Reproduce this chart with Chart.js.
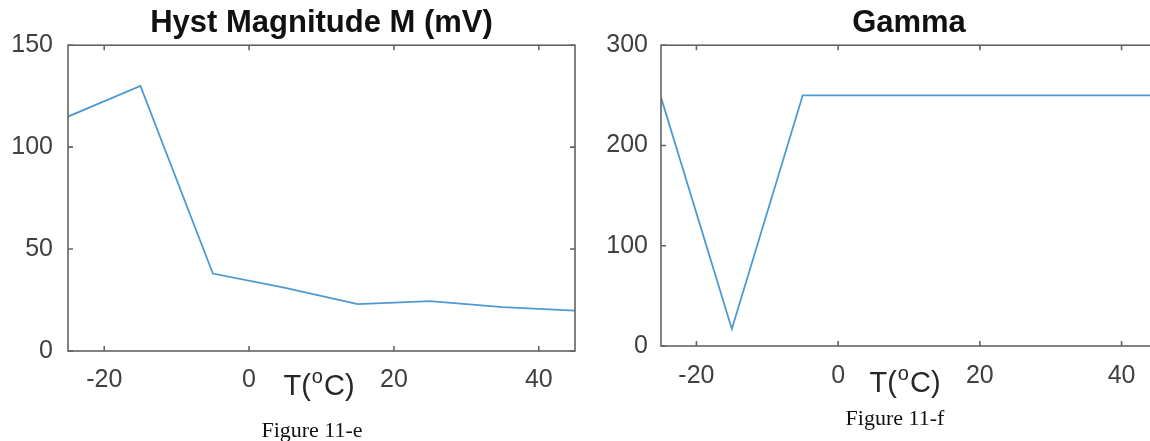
<!DOCTYPE html>
<html>
<head>
<meta charset="utf-8">
<script src="https://cdn.jsdelivr.net/npm/chart.js@4/dist/chart.umd.min.js"></script>
<style>
  html, body { margin: 0; padding: 0; background: #fff; width: 1150px; height: 441px; overflow: hidden; }
  .wrap { position: absolute; top: 0; }
  .xlab { position: absolute; font: 29px "Liberation Sans", Arial, sans-serif; line-height: 29px; color: #262626; transform: translateX(-50%); white-space: nowrap; }
  .xlab sup { font-size: 20px; vertical-align: baseline; position: relative; top: -12px; margin: 0 1px; }
  .cap { position: absolute; font: 22px "Liberation Serif", "Times New Roman", serif; line-height: 22px; color: #111; transform: translateX(-50%); white-space: nowrap; }
</style>
</head>
<body>
<div class="wrap" style="left:0"><canvas id="hystChart" width="580" height="441"></canvas></div>
<div class="wrap" style="left:580px"><canvas id="gammaChart" width="600" height="441"></canvas></div>

<div class="xlab" style="left:319px; top:371px">T(<sup>o</sup>C)</div>
<div class="xlab" style="left:905px; top:368px">T(<sup>o</sup>C)</div>
<div class="cap" style="left:312px; top:419px">Figure 11-e</div>
<div class="cap" style="left:895px; top:407px">Figure 11-f</div>

<script>
const temps = [-25, -15, -5, 5, 15, 25, 35, 45];
const hystM = [115, 130, 38, 31, 23, 24.5, 21.5, 19.8];
const gamma = [248, 17, 250, 250, 250, 250, 250, 250];

const xTicks = [-20, 0, 20, 40];
const hystTicks = [0, 50, 100, 150];
const gammaTicks = [0, 100, 200, 300];

const FONT = '"Liberation Sans", Arial, sans-serif';
const LINE = '#4d9ad0';
const AXIS = '#636363';
const TXT = '#404040';

// MATLAB-style box with inward ticks on all four sides
const boxPlugin = {
  id: 'matlabBox',
  afterDraw(chart) {
    const { ctx, chartArea: a, scales: { x, y } } = chart;
    const len = 5;
    ctx.save();
    ctx.strokeStyle = AXIS;
    ctx.lineWidth = 1.6;
    ctx.strokeRect(a.left, a.top, a.right - a.left, a.bottom - a.top);
    ctx.beginPath();
    x.ticks.forEach(t => {
      const px = x.getPixelForValue(t.value);
      ctx.moveTo(px, a.bottom); ctx.lineTo(px, a.bottom - len);
      ctx.moveTo(px, a.top); ctx.lineTo(px, a.top + len);
    });
    y.ticks.forEach(t => {
      const py = y.getPixelForValue(t.value);
      ctx.moveTo(a.left, py); ctx.lineTo(a.left + len, py);
      ctx.moveTo(a.right, py); ctx.lineTo(a.right - len, py);
    });
    ctx.stroke();
    ctx.restore();
  }
};

function makeChart(id, title, values, yMax, yTicks, o) {
  return new Chart(document.getElementById(id), {
    type: 'line',
    data: {
      datasets: [{
        data: temps.map((t, i) => ({ x: t, y: values[i] })),
        borderColor: LINE,
        borderWidth: 1.8,
        pointRadius: 0,
        tension: 0,
        fill: false
      }]
    },
    options: {
      responsive: false,
      animation: false,
      devicePixelRatio: 1,
      layout: { padding: { left: 0, right: o.right, top: 0, bottom: 0 } },
      plugins: {
        legend: { display: false },
        tooltip: { enabled: false },
        title: {
          display: true,
          text: title,
          fullSize: false,
          color: '#111',
          font: { family: FONT, size: 31, weight: 'bold', lineHeight: 1.2 },
          padding: { top: 5, bottom: 3 }
        }
      },
      scales: {
        x: {
          type: 'linear',
          min: -25,
          max: 45,
          afterBuildTicks: s => { s.ticks = xTicks.map(v => ({ value: v })); },
          afterFit: s => { s.height = o.xh; },
          grid: { display: false, drawTicks: false },
          border: { display: false },
          ticks: { color: TXT, font: { family: FONT, size: 25 }, padding: o.xpad, maxRotation: 0, autoSkip: false }
        },
        y: {
          min: 0,
          max: yMax,
          afterBuildTicks: s => { s.ticks = yTicks.map(v => ({ value: v })); },
          afterFit: s => { s.width = o.yw; },
          grid: { display: false, drawTicks: false },
          border: { display: false },
          ticks: { color: TXT, font: { family: FONT, size: 25 }, padding: o.ypad }
        }
      }
    },
    plugins: [boxPlugin]
  });
}

makeChart('hystChart', 'Hyst Magnitude M (mV)', hystM, 150, hystTicks, { right: 5, xh: 90, yw: 68, xpad: 14, ypad: 15 });
makeChart('gammaChart', 'Gamma', gamma, 300, gammaTicks, { right: 23, xh: 95, yw: 81, xpad: 15, ypad: 13 });
</script>
</body>
</html>
